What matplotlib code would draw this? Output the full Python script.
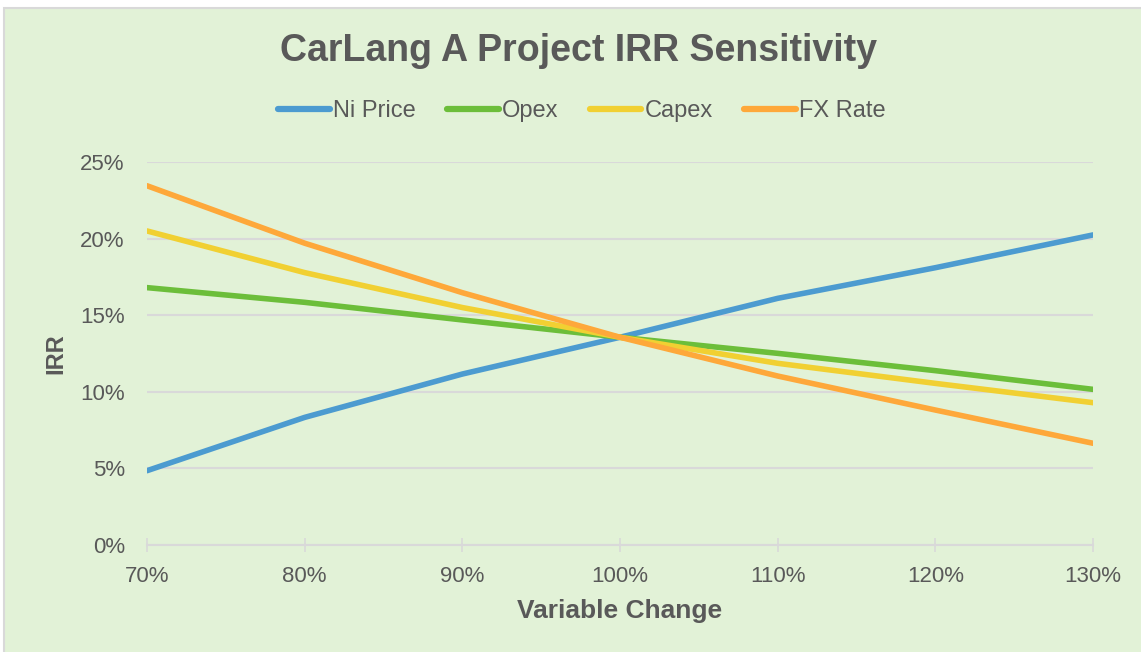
import matplotlib.pyplot as plt
from matplotlib.patches import Rectangle
from matplotlib.ticker import PercentFormatter

plt.rcParams['font.family'] = ['Liberation Sans', 'DejaVu Sans']

# sensitivity steps and IRR for each driver
change = [0.70, 0.80, 0.90, 1.00, 1.10, 1.20, 1.30]
ni_price = [0.0485, 0.0833, 0.1116, 0.1356, 0.1610, 0.1810, 0.2024]
opex = [0.1680, 0.1584, 0.1469, 0.1356, 0.1251, 0.1138, 0.1016]
capex = [0.2050, 0.1778, 0.1550, 0.1356, 0.1186, 0.1055, 0.0929]
fx_rate = [0.2345, 0.1970, 0.1647, 0.1356, 0.1103, 0.0881, 0.0664]

series = [
    ("Ni Price", ni_price, "#4C9BD0"),
    ("Opex", opex, "#6CBE3A"),
    ("Capex", capex, "#F1D032"),
    ("FX Rate", fx_rate, "#FEA83A"),
]

bg = "#E2F2D7"
text_col = "#595959"
grid_col = "#D9D9D9"

fig = plt.figure(figsize=(11.41, 6.52), dpi=100, facecolor="white")
fig.patches.append(Rectangle((3.5 / 1141, -0.01), 1.02, 1 - 7.5 / 652 + 0.01,
                             transform=fig.transFigure, facecolor=bg,
                             edgecolor=grid_col, linewidth=1.5, zorder=-10))

ax = fig.add_axes([147 / 1141, 1 - 545 / 652, 946 / 1141, 383 / 652])
ax.patch.set_alpha(0)

for name, vals, col in series:
    ax.plot(change, vals, color=col, lw=4, label=name, solid_capstyle="round",
            zorder=3)

ax.set_xlim(0.70, 1.30)
ax.set_ylim(0, 0.25)
ax.set_xticks(change)
ax.set_yticks([0, 0.05, 0.10, 0.15, 0.20, 0.25])
ax.xaxis.set_major_formatter(PercentFormatter(1.0, decimals=0))
ax.yaxis.set_major_formatter(PercentFormatter(1.0, decimals=0))

ax.grid(axis="y", color=grid_col, lw=1.5, zorder=1)
ax.set_axisbelow(True)
for s in ["top", "right", "left"]:
    ax.spines[s].set_visible(False)
ax.spines["bottom"].set_color(grid_col)
ax.spines["bottom"].set_linewidth(1.5)

ax.tick_params(axis="y", length=0, pad=16, labelsize=16, labelcolor=text_col)
ax.tick_params(axis="x", direction="inout", length=10, width=1.2,
               color=grid_col, pad=10, labelsize=16, labelcolor=text_col)

ax.set_xlabel("Variable Change", fontsize=19, fontweight="bold",
              color=text_col, labelpad=9)
ax.set_ylabel("IRR", fontsize=17, fontweight="bold", color=text_col,
              labelpad=9)

fig.text(579 / 1141, 1 - 51 / 652, "CarLang A Project IRR Sensitivity",
         ha="center", va="center", fontsize=27, fontweight="bold",
         color=text_col)

leg = fig.legend(loc="center", bbox_to_anchor=(582 / 1141, 1 - 111 / 652),
                 ncol=4, frameon=False, fontsize=17, handlelength=2.2,
                 handletextpad=0.15, columnspacing=1.3, labelcolor=text_col)
for h in leg.get_lines():
    h.set_linewidth(4.5)

fig.savefig("out.png", dpi=100, facecolor=fig.get_facecolor())
